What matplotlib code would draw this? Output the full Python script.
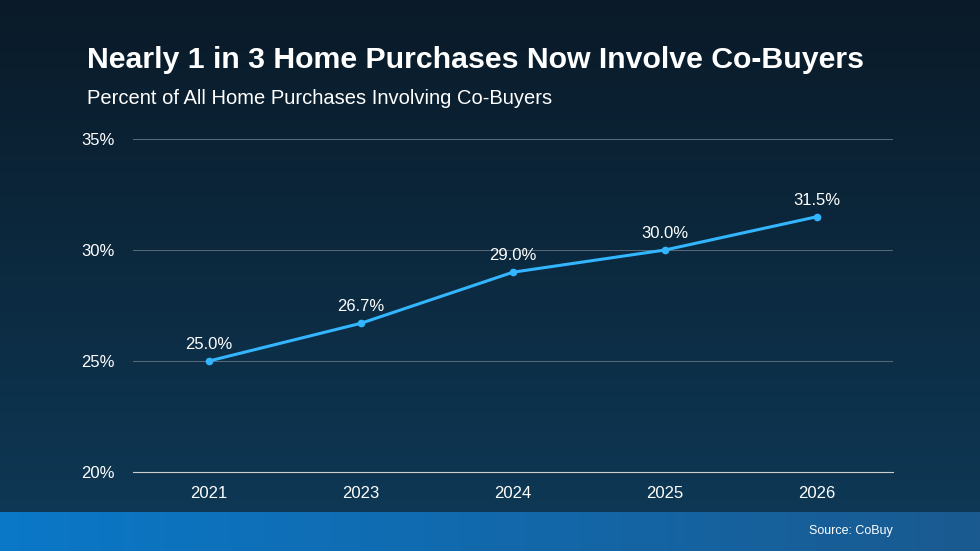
import matplotlib.pyplot as plt
import numpy as np

years = ["2021", "2023", "2024", "2025", "2026"]
share = [25.0, 26.7, 29.0, 30.0, 31.5]
yticks = [20, 25, 30, 35]

plt.rcParams['font.family'] = ['Liberation Sans', 'DejaVu Sans']

W, H = 980, 551
fig = plt.figure(figsize=(W / 100, H / 100), dpi=100)

# background gradient
bg = fig.add_axes([0, 0, 1, 1])
grad = np.linspace(0, 1, 256).reshape(-1, 1)
top = np.array([0x0a, 0x1a, 0x28]) / 255
bot = np.array([0x0e, 0x3a, 0x58]) / 255
img = top + (bot - top) * grad[:, :, None]
bg.imshow(img, aspect='auto', extent=[0, 1, 0, 1], origin='upper')
# bottom band
band = np.linspace(0, 1, 256).reshape(1, -1)
c1 = np.array([0x0a, 0x78, 0xc8]) / 255
c2 = np.array([0x1a, 0x5a, 0x90]) / 255
bimg = c1 + (c2 - c1) * band[:, :, None]
bg.imshow(bimg, aspect='auto', extent=[0, 1, 0, 39 / H], origin='upper')
bg.set_xlim(0, 1)
bg.set_ylim(0, 1)
bg.axis('off')

ax = fig.add_axes([133 / W, 1 - 472 / H, (893 - 133) / W, (472 - 139) / H])
ax.set_facecolor('none')
x = np.arange(len(years))
ax.plot(x, share, color='#33b5ff', lw=2.2, marker='o', ms=4.5, zorder=3)
for xi, v in zip(x, share):
    ax.text(xi, v + 0.4, f"{v:.1f}%", color='white', ha='center', va='bottom', fontsize=12)
ax.set_xlim(-0.5, len(years) - 0.5)
ax.set_ylim(20, 35)
ax.set_yticks(yticks)
ax.set_yticklabels([f"{t}%" for t in yticks])
ax.set_xticks(x)
ax.set_xticklabels(years)
ax.grid(axis='y', color='#5a6b7a', lw=0.7)
ax.tick_params(colors='white', labelsize=12, length=0)
ax.tick_params(axis='y', pad=13)
ax.tick_params(axis='x', pad=10)
for s in ax.spines.values():
    s.set_visible(False)
ax.spines['bottom'].set_visible(True)
ax.spines['bottom'].set_color('#cccccc')

fig.text(87 / W, 1 - 60 / H, "Nearly 1 in 3 Home Purchases Now Involve Co-Buyers",
         color='white', fontsize=21.8, fontweight='bold', va='center')
fig.text(87 / W, 1 - 98 / H, "Percent of All Home Purchases Involving Co-Buyers",
         color='white', fontsize=14.5, va='center')
fig.text(893 / W, 1 - 531 / H, "Source: CoBuy", color='white', fontsize=9, ha='right', va='center')

fig.savefig('out.png', dpi=100)
